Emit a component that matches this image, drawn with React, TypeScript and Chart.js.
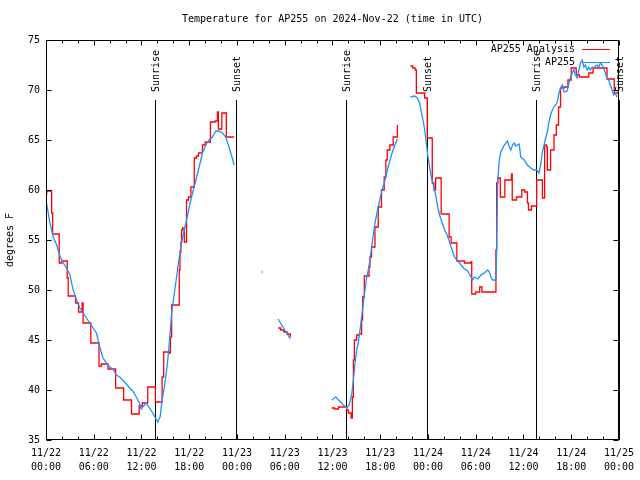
import React, { useEffect, useRef } from 'react';
import { Chart, registerables } from 'chart.js';

Chart.register(...registerables);

const FONT_FAMILY = '"DejaVu Sans Mono", monospace';
const TITLE = 'Temperature for AP255 on 2024-Nov-22 (time in UTC)';
const Y_TITLE = 'degrees F';

const X_DATES = ['11/22', '11/22', '11/22', '11/22', '11/23', '11/23', '11/23', '11/23', '11/24', '11/24', '11/24', '11/24', '11/25'];
const X_TIMES = ['00:00', '06:00', '12:00', '18:00', '00:00', '06:00', '12:00', '18:00', '00:00', '06:00', '12:00', '18:00', '00:00'];

const SUN_LABELS = ['Sunrise', 'Sunset', 'Sunrise', 'Sunset', 'Sunrise', 'Sunset'];
const SUN_HOURS = [13.75, 23.875, 37.75, 47.875, 61.625, 71.95];

const SERIES_NAMES = ['AP255 Analysis', 'AP255'];

// hours since 2024-11-22 00:00 UTC (step points of the analysis)
const ANALYSIS_HOURS = [
  0, 0.1, 0.71, 0.84, 1.66, 2.0, 2.66, 2.79, 3.71, 4.09, 4.54, 4.66, 5.63, 6.66, 6.96, 7.79, 8.75, 9.75, 10.75, 11.71, 12.1,
  12.79, 13.75, 14.59, 14.79, 15.5, 15.63, 15.79, 16.75, 16.84, 16.96, 17.04, 17.16, 17.38, 17.66, 17.91, 18.21, 18.63,
  18.91, 19.16, 19.66, 20.0, 20.66, 21.25, 21.54, 21.66, 22.09, 22.66, 23.63,
  25.5,
  27.1, 27.22,
  28.5,
  29.16, 29.5, 29.9, 30.3, 30.7,
  33.0,
  35.9, 36.25, 36.75, 37.79, 38.0, 38.34, 38.5, 38.63, 38.75, 39.04, 39.38, 39.66, 39.79, 40.0, 40.59, 40.71, 40.91,
  41.34, 41.75, 42.16, 42.5, 42.71, 42.88, 43.21, 43.63, 44.16,
  45.0,
  45.79, 46.09, 46.38, 46.54, 47.59, 47.91, 48.54, 48.75, 48.96, 49.66, 50.66, 50.91, 51.63, 52.59, 53.41, 53.5, 54.0,
  54.5, 54.79, 56.54, 56.63, 56.79, 57.09, 57.66, 58.5, 58.59, 59.13, 59.79, 60.16, 60.5, 60.63, 61.0, 61.66, 62.38,
  62.66, 62.91, 63.0, 63.41, 63.84, 64.13, 64.41, 64.66, 65.09, 65.59, 66.0, 66.63, 67.04, 68.21, 68.75, 70.5, 71.41, 71.9,
];
const ANALYSIS_TEMPS = [
  59.6, 59.9, 57.7, 55.6, 52.7, 52.9, 51.2, 49.4, 48.7, 47.8, 48.7, 46.7, 44.7, 42.4, 42.6, 42.1, 40.2, 39.0, 37.6, 38.4, 38.7,
  40.3, 38.8, 41.3, 43.8, 43.7, 45.3, 48.5, 52.0, 53.8, 54.8, 56.0, 56.2, 54.8, 59.0, 59.3, 60.3, 63.2,
  63.4, 63.7, 64.5, 64.8, 66.8, 66.9, 67.8, 66.1, 67.7, 65.3, 65.3,
  null,
  51.8, 51.8,
  null,
  46.2, 46.0, 45.8, 45.6, 45.3,
  null,
  38.2, 38.1, 38.3, 38.0, 37.7, 37.2, 39.3, 43.0, 45.0, 45.5, 45.6, 47.0, 49.3, 51.4, 52.3, 53.3, 54.3,
  56.3, 58.3, 60.0, 61.3, 63.0, 64.0, 64.5, 65.3, 66.5,
  null,
  72.4, 72.2, 72.0, 69.7, 69.2, 65.2, 60.7, 60.0, 61.2, 57.6, 55.3, 54.7, 52.9, 52.7, 52.8, 49.6, 49.8,
  50.3, 49.8, 54.0, 60.7, 61.2, 59.3, 61.0, 61.6, 59.0, 59.3, 60.0, 59.8, 58.7, 58.0, 58.4, 61.0, 59.2,
  64.5, 64.3, 62.0, 64.0, 65.5, 66.5, 68.3, 70.2, 70.3, 71.0, 72.2, 71.5, 71.3, 71.7, 72.2, 71.1, 69.7, 69.7,
];

// observed station temperatures
const OBS_HOURS = [
  0, 0.5, 0.91, 1.34, 1.75, 2.16, 2.59, 3.0, 3.41, 3.84, 4.25, 4.66, 5.09, 5.5, 5.91, 6.34, 6.75, 7.16, 7.59, 8.0, 8.41,
  8.84, 9.25, 9.66, 10.09, 10.5, 10.91, 11.34, 11.75, 11.96, 12.16, 12.59, 13.0, 13.41, 13.75, 14.04, 14.34, 14.59, 14.88,
  15.21, 15.5, 15.79, 16.13, 16.41, 16.75, 17.09, 17.38, 17.66, 18.0, 18.41, 18.84, 19.25, 19.66, 20.09, 20.5, 20.91,
  21.34, 21.75, 22.16, 22.59, 23.0, 23.41, 23.63,
  25.5,
  29.16, 30.71,
  33.0,
  35.91, 36.41, 36.88, 37.38, 37.79, 38.09, 38.41, 38.63, 38.84, 39.04, 39.25, 39.46, 39.66, 39.88, 40.09, 40.29, 40.5,
  40.71, 40.91, 41.13, 41.34, 41.54, 41.75, 42.16, 42.59, 43.0, 43.41, 43.84, 44.16,
  45.0,
  45.79, 46.34, 46.66, 46.96, 47.16, 47.38, 47.59, 47.79, 48.0, 48.21, 48.41, 48.63, 48.84, 49.04, 49.25, 49.46, 49.66,
  49.88, 50.09, 50.29, 50.5, 50.71, 50.91, 51.13, 51.34, 51.75, 52.16, 52.59, 53.0, 53.41, 53.63, 53.84, 54.25, 54.66,
  55.09, 55.5, 55.71, 55.91, 56.13, 56.54, 56.63, 56.75, 56.96, 57.16, 57.59, 58.0, 58.21, 58.41, 58.63, 58.84, 59.04,
  59.25, 59.46, 59.66, 60.09, 60.5, 60.91, 61.34, 61.66, 61.96, 62.16, 62.38, 62.59, 62.79, 63.0, 63.21, 63.41, 63.63,
  63.84, 64.04, 64.25, 64.46, 64.66, 64.88, 65.09, 65.5, 65.71, 65.91, 66.13, 66.34, 66.54, 66.75, 66.96, 67.16, 67.38,
  67.59, 67.79, 68.0, 68.21, 68.41, 68.63, 68.84, 69.04, 69.25, 69.46, 69.66, 69.88, 70.09, 70.29, 70.5, 70.71, 70.91,
  71.13, 71.34, 71.54, 71.75,
];
const OBS_TEMPS = [
  59.0, 56.7, 55.3, 54.5, 53.4, 52.7, 52.2, 51.5, 50.0, 49.0, 48.2, 47.7, 47.2, 46.7, 46.2, 45.7, 44.3, 43.2, 42.7, 42.3, 42.1,
  41.5, 41.3, 41.0, 40.6, 40.2, 39.9, 39.3, 38.7, 38.1, 38.3, 38.7, 38.2, 37.7, 37.2, 36.8, 37.3, 39.0, 40.3,
  42.3, 44.7, 47.7, 49.7, 51.3, 53.3, 55.0, 56.0, 57.0, 58.3, 59.7, 61.0, 62.3, 63.7, 64.5, 65.0, 65.3,
  65.9, 65.9, 65.7, 65.3, 64.3, 63.2, 62.5,
  null,
  47.1, 45.1,
  null,
  39.0, 39.3, 38.9, 38.5, 38.2, 38.5, 39.5, 41.0, 42.7, 44.0, 44.7, 46.0, 47.3, 48.7, 50.0, 51.2, 52.0,
  53.0, 54.2, 55.5, 56.7, 57.5, 58.3, 59.8, 61.0, 62.3, 63.5, 64.5, 65.1,
  null,
  69.3, 69.4, 69.2, 68.7, 67.8, 67.0, 66.0, 64.7, 63.3, 62.3, 61.3, 60.7, 60.0, 59.2, 58.2, 57.5, 57.0,
  56.5, 56.0, 55.7, 55.3, 54.8, 54.3, 53.8, 53.3, 52.9, 52.5, 52.1, 51.9, 51.3, 51.0, 51.3, 51.1, 51.5,
  51.7, 52.0, 51.8, 51.3, 51.0, 51.0, 54.0, 60.7, 63.0, 63.8, 64.5, 64.9, 64.3, 64.0, 64.5, 64.7, 64.4,
  64.5, 64.6, 63.3, 63.0, 62.5, 62.2, 62.0, 62.0, 61.7, 62.5, 63.8, 64.5, 65.2, 65.8, 66.8, 67.5, 68.0,
  68.3, 68.5, 68.8, 69.7, 70.2, 70.5, 69.8, 69.9, 70.7, 71.2, 71.7, 72.0, 71.5, 71.2, 72.0, 72.7, 73.0,
  72.3, 72.5, 72.0, 72.3, 72.0, 72.3, 72.2, 72.4, 72.5, 72.3, 72.7, 72.5, 72.2, 71.7, 71.2, 71.0, 70.5,
  70.0, 69.5, 69.7, 69.3,
];

const X_MIN = 0;
const X_MAX = 72;
const X_MAJOR = 6;
const X_MINOR = 2;
const Y_MIN = 35;
const Y_MAX = 75;
const Y_MAJOR = 5;
const SUN_LINE_TOP = 69;
const SUN_LABEL_BASE = 69.8;

const RED = '#ff0000';
const BLUE = '#1e90ff';

function toPoints(hours: number[], temps: (number | null)[]) {
  return hours.map((h, i) => ({ x: h, y: temps[i] }));
}

const decorPlugin = {
  id: 'gnuplotDecor',
  beforeDatasetsDraw(chart: any) {
    const { ctx, chartArea: a, scales } = chart;
    const x = scales.x;
    const y = scales.y;
    ctx.save();
    ctx.strokeStyle = '#000';
    ctx.lineWidth = 1;
    ctx.fillStyle = '#000';
    ctx.font = `10px ${FONT_FAMILY}`;
    SUN_HOURS.forEach((h, i) => {
      const px = Math.round(x.getPixelForValue(h)) + 0.5;
      ctx.beginPath();
      ctx.moveTo(px, Math.round(y.getPixelForValue(SUN_LINE_TOP)));
      ctx.lineTo(px, a.bottom);
      ctx.stroke();
      ctx.save();
      ctx.translate(px + 1, y.getPixelForValue(SUN_LABEL_BASE));
      ctx.rotate(-Math.PI / 2);
      ctx.textAlign = 'left';
      ctx.textBaseline = 'middle';
      ctx.fillText(SUN_LABELS[i], 0, 0);
      ctx.restore();
    });
    ctx.restore();
  },
  afterDatasetsDraw(chart: any) {
    const { ctx, chartArea: a, scales } = chart;
    const x = scales.x;
    const y = scales.y;
    ctx.save();
    ctx.strokeStyle = '#000';
    ctx.fillStyle = '#000';
    ctx.lineWidth = 1;
    const L = Math.round(a.left) + 0.5;
    const R = Math.round(a.right) - 0.5;
    const T = Math.round(a.top) + 0.5;
    const B = Math.round(a.bottom) - 0.5;
    ctx.beginPath();
    ctx.rect(L, T, R - L, B - T);
    ctx.stroke();
    ctx.beginPath();
    for (let t = X_MIN; t <= X_MAX; t += X_MINOR) {
      const px = Math.round(x.getPixelForValue(t)) + 0.5;
      const len = t % X_MAJOR === 0 ? 5 : 3;
      ctx.moveTo(px, B);
      ctx.lineTo(px, B - len);
      ctx.moveTo(px, T);
      ctx.lineTo(px, T + len);
    }
    for (let v = Y_MIN; v <= Y_MAX; v += Y_MAJOR) {
      const py = Math.round(y.getPixelForValue(v)) + 0.5;
      ctx.moveTo(L, py);
      ctx.lineTo(L + 5, py);
      ctx.moveTo(R, py);
      ctx.lineTo(R - 5, py);
    }
    ctx.stroke();

    ctx.font = `10px ${FONT_FAMILY}`;
    ctx.textAlign = 'center';
    ctx.textBaseline = 'middle';
    ctx.fillText(TITLE, (a.left + a.right) / 2, 19);
    ctx.save();
    ctx.translate(10, (a.top + a.bottom) / 2);
    ctx.rotate(-Math.PI / 2);
    ctx.fillText(Y_TITLE, 0, 0);
    ctx.restore();
    const colors = [RED, BLUE];
    SERIES_NAMES.forEach((name, i) => {
      const ky = 49 + i * 13;
      ctx.fillStyle = '#000';
      ctx.textAlign = 'right';
      ctx.fillText(name, 575, ky);
      ctx.strokeStyle = colors[i];
      ctx.beginPath();
      ctx.moveTo(582, ky + 0.5);
      ctx.lineTo(610, ky + 0.5);
      ctx.stroke();
    });
    ctx.restore();
  },
};

export default function App() {
  const canvasRef = useRef<HTMLCanvasElement | null>(null);

  useEffect(() => {
    const canvas = canvasRef.current;
    if (!canvas) return;
    const chart = new Chart(canvas, {
      type: 'line',
      data: {
        datasets: [
          {
            label: SERIES_NAMES[0],
            data: toPoints(ANALYSIS_HOURS, ANALYSIS_TEMPS),
            borderColor: RED,
            backgroundColor: RED,
            borderWidth: 1.3,
            pointRadius: 0,
            stepped: 'before',
            spanGaps: false,
            order: 2,
          },
          {
            label: SERIES_NAMES[1],
            data: toPoints(OBS_HOURS, OBS_TEMPS),
            borderColor: BLUE,
            backgroundColor: BLUE,
            borderWidth: 1.3,
            pointRadius: 0,
            tension: 0,
            spanGaps: false,
            order: 1,
          },
        ],
      },
      options: {
        responsive: false,
        animation: false,
        devicePixelRatio: 1,
        layout: { padding: { top: 40, right: 18, left: 0, bottom: 0 } },
        plugins: {
          legend: { display: false },
          title: { display: false },
          tooltip: { enabled: false },
        },
        scales: {
          x: {
            type: 'linear',
            min: X_MIN,
            max: X_MAX,
            grid: { display: false, drawTicks: false },
            border: { display: false },
            afterFit: (scale: any) => {
              scale.height = 40;
            },
            ticks: {
              stepSize: X_MAJOR,
              autoSkip: false,
              maxRotation: 0,
              minRotation: 0,
              padding: 6,
              color: '#000',
              font: { family: FONT_FAMILY, size: 10, lineHeight: 1.4 },
              callback: (_v: any, i: number) => [X_DATES[i], X_TIMES[i]],
            },
          },
          y: {
            type: 'linear',
            min: Y_MIN,
            max: Y_MAX,
            grid: { display: false, drawTicks: false },
            border: { display: false },
            afterFit: (scale: any) => {
              scale.width = 46;
            },
            ticks: {
              stepSize: Y_MAJOR,
              padding: 6,
              color: '#000',
              font: { family: FONT_FAMILY, size: 10 },
            },
          },
        },
      },
      plugins: [decorPlugin],
    });
    return () => chart.destroy();
  }, []);

  return (
    <div style={{ position: 'fixed', left: 0, top: 0, width: 640, height: 480, background: '#fff' }}>
      <canvas ref={canvasRef} width={640} height={480} />
    </div>
  );
}
